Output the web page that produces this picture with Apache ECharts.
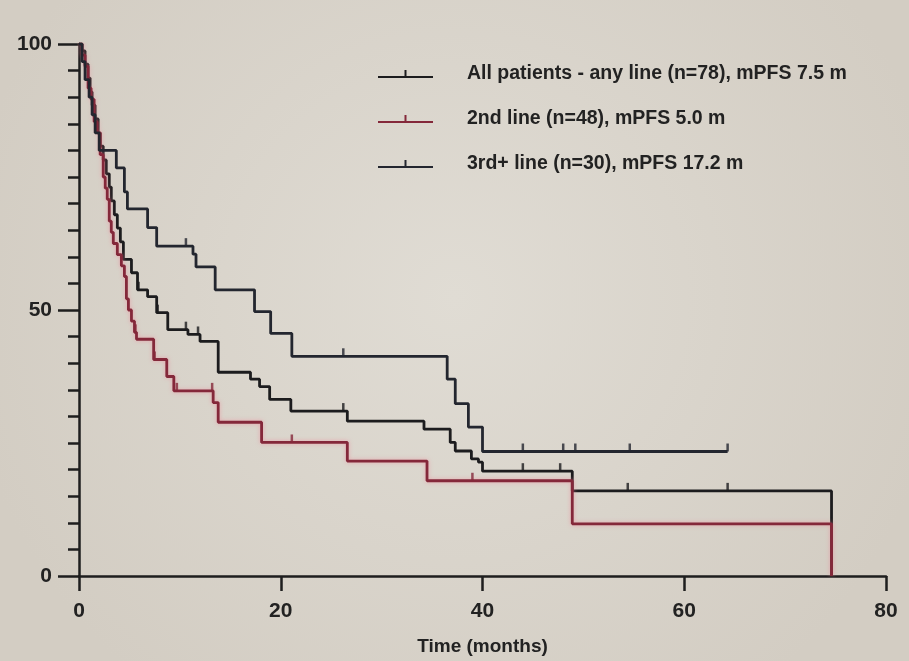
<!DOCTYPE html>
<html>
<head>
<meta charset="utf-8">
<title>PFS by line of treatment</title>
<style>
html, body { margin: 0; padding: 0; background: #d9d4cb; }
#chart { width: 909px; height: 661px; }
</style>
</head>
<body>
<div id="chart"></div>
<script src="https://cdn.jsdelivr.net/npm/echarts@6/dist/echarts.min.js"></script>
<script>
// Kaplan-Meier steps: [months, % progression free]
var allPatients = [
  [0, 100], [0.3, 98.7], [0.6, 96.2], [0.9, 93.6], [1.1, 91], [1.3, 88.5], [1.6, 85.9],
  [1.9, 83.3], [2.1, 80.8], [2.4, 78.2], [2.7, 75.6], [3.0, 73.1], [3.2, 70.5], [3.5, 67.9],
  [3.8, 65.4], [4.1, 62.8], [4.4, 59.5], [5.2, 57], [5.8, 53.8], [6.8, 52.5], [7.7, 49.5],
  [8.8, 46.3], [10.8, 45.4], [12.0, 44.1], [13.8, 38.3], [17.0, 37], [17.9, 35.6],
  [18.9, 33.2], [21.0, 31], [26.6, 29.1], [34.2, 27.6], [36.8, 25.1], [37.3, 23.5],
  [38.9, 22], [39.6, 21.4], [40.0, 19.7], [48.9, 16], [74.6, 16], [74.6, 0]
];
var secondLine = [
  [0, 100], [0.3, 97.9], [0.6, 95.8], [0.9, 91.7], [1.2, 89.6], [1.5, 85.4], [1.8, 83.3],
  [2.1, 79.2], [2.4, 75], [2.6, 72.9], [2.8, 70.8], [3.0, 66.7], [3.2, 64.6], [3.4, 62.5],
  [3.8, 60.4], [4.2, 58.3], [4.5, 56.3], [4.7, 52.1], [4.9, 50], [5.2, 47.9], [5.5, 45.8],
  [5.7, 44.5], [7.4, 40.7], [8.7, 37.5], [9.4, 34.8], [13.3, 32.6], [13.8, 28.9],
  [18.1, 25.1], [26.6, 21.6], [34.5, 17.9], [48.9, 9.8], [74.6, 9.8], [74.6, 0]
];
var thirdLine = [
  [0, 100], [0.3, 96.7], [0.6, 93.3], [1.0, 90], [1.3, 86.7], [1.6, 83.3], [2.0, 80],
  [3.7, 76.7], [4.5, 72.2], [4.8, 69], [6.8, 65.5], [7.7, 62], [11.3, 60.5], [11.6, 58.1],
  [13.5, 53.8], [17.4, 49.7], [19.0, 45.6], [21.1, 41.3], [36.5, 37], [37.3, 32.4],
  [38.6, 28], [40.0, 23.4], [64.3, 23.4]
];

// censor ticks
var allCensored = [[5.9, 53.8], [7.8, 49.5], [10.6, 46.3], [11.8, 45.4], [26.2, 31], [44, 19.7], [47.7, 19.7], [54.4, 16], [64.3, 16]];
var secondCensored = [[5.6, 45.8], [7.5, 40.7], [9.7, 34.8], [13.2, 34.8], [21.1, 25.1], [39.0, 17.9]];
var thirdCensored = [[10.6, 62], [26.2, 41.3], [44, 23.4], [48, 23.4], [49.2, 23.4], [54.6, 23.4], [64.3, 23.4]];

var seriesNames = [
  'All patients - any line (n=78), mPFS 7.5 m',
  '2nd line (n=48), mPFS 5.0 m',
  '3rd+ line (n=30), mPFS 17.2 m'
];
var colors = ['#1c1c1e', '#84283a', '#23262f'];

var yTickValues = [0, 50, 100];
var xTickValues = [0, 20, 40, 60, 80];

function kmLine(name, data, color, glow) {
  var s = {
    name: name,
    type: 'line',
    step: 'end',
    data: data,
    showSymbol: false,
    itemStyle: { color: color },
    lineStyle: { color: color, width: 2.8 },
    z: 3
  };
  if (glow) {
    s.lineStyle.shadowColor = 'rgba(240,130,150,0.6)';
    s.lineStyle.shadowBlur = 4;
  }
  return s;
}

function censorMarks(name, data, color) {
  return {
    name: name,
    type: 'scatter',
    data: data,
    symbol: 'rect',
    symbolSize: [2.5, 8],
    symbolOffset: [0, -4],
    itemStyle: { color: color },
    z: 4
  };
}

var myChart = echarts.init(document.getElementById('chart'));
var option = {
  backgroundColor: {
    type: 'radial', x: 0.5, y: 0.45, r: 0.75,
    colorStops: [{ offset: 0, color: '#e0dcd4' }, { offset: 1, color: '#d3cdc3' }]
  },
  animation: false,
  textStyle: { fontFamily: 'Liberation Sans, Arial, sans-serif' },
  grid: { left: 79, right: 23, top: 44, bottom: 84 },
  legend: {
    data: seriesNames,
    orient: 'vertical',
    left: 373,
    top: 59,
    itemGap: 25,
    itemWidth: 55,
    itemHeight: 8,
    icon: 'path://M0,10H55V12H0Z M26.5,4H28.5V10H26.5Z',
    textStyle: { fontSize: 19.5, fontWeight: 'bold', color: '#222', padding: [0, 0, 0, 29] }
  },
  xAxis: {
    type: 'value',
    min: 0,
    max: 80,
    interval: 20,
    name: 'Time (months)',
    nameLocation: 'middle',
    nameGap: 61,
    nameTextStyle: { fontSize: 19, fontWeight: 'bold', color: '#222' },
    splitLine: { show: false },
    axisLine: { show: true, lineStyle: { color: '#1e1e1e', width: 2.5 } },
    axisTick: { show: true, length: 15, lineStyle: { color: '#1e1e1e', width: 2.5 } },
    axisLabel: {
      margin: 25, fontSize: 21, fontWeight: 'bold', color: '#222',
      formatter: function (v) { return xTickValues.indexOf(v) >= 0 ? String(v) : ''; }
    }
  },
  yAxis: {
    type: 'value',
    min: 0,
    max: 100,
    interval: 50,
    splitLine: { show: false },
    axisLine: { show: true, lineStyle: { color: '#1e1e1e', width: 2.5 } },
    axisTick: { show: true, length: 21, lineStyle: { color: '#1e1e1e', width: 2.5 } },
    minorTick: { show: true, splitNumber: 10, length: 11, lineStyle: { color: '#1e1e1e', width: 2.5 } },
    axisLabel: {
      margin: 27, fontSize: 21, fontWeight: 'bold', color: '#222',
      formatter: function (v) { return yTickValues.indexOf(v) >= 0 ? String(v) : ''; }
    }
  },
  series: [
    kmLine(seriesNames[0], allPatients, colors[0], false),
    kmLine(seriesNames[1], secondLine, colors[1], true),
    kmLine(seriesNames[2], thirdLine, colors[2], false),
    censorMarks('all censored', allCensored, colors[0]),
    censorMarks('2nd censored', secondCensored, colors[1]),
    censorMarks('3rd censored', thirdCensored, colors[2])
  ]
};
myChart.setOption(option, true);
</script>
</body>
</html>
